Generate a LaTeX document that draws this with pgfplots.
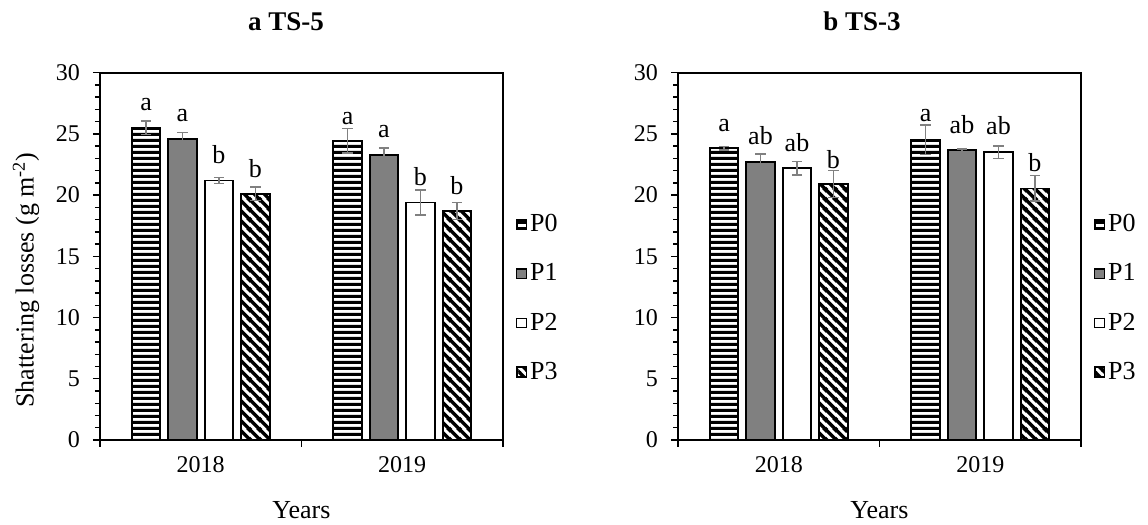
\documentclass[border=0pt]{standalone}
\usepackage{fontspec}
\setmainfont{Liberation Serif}
\usepackage{pgfplots}
\pgfplotsset{compat=1.18}
\usetikzlibrary{patterns}

\definecolor{barGray}{HTML}{808080}
\definecolor{errGray}{HTML}{808080}

\pgfdeclarepatternformonly{hstripes}{\pgfqpoint{0pt}{0pt}}{\pgfqpoint{40pt}{3.2pt}}{\pgfqpoint{40pt}{3.2pt}}{%
  \pgfpathrectangle{\pgfqpoint{-1pt}{0pt}}{\pgfqpoint{42pt}{1.7pt}}\pgfusepath{fill}}

\pgfdeclarepatternformonly{dstripes}{\pgfqpoint{0pt}{0pt}}{\pgfqpoint{4.8pt}{4.8pt}}{\pgfqpoint{4.8pt}{4.8pt}}{%
  \pgfsetlinewidth{1.7pt}%
  \pgfpathmoveto{\pgfqpoint{-1pt}{1pt}}\pgfpathlineto{\pgfqpoint{1pt}{-1pt}}%
  \pgfpathmoveto{\pgfqpoint{-1pt}{5.8pt}}\pgfpathlineto{\pgfqpoint{5.8pt}{-1pt}}%
  \pgfpathmoveto{\pgfqpoint{3.8pt}{5.8pt}}\pgfpathlineto{\pgfqpoint{5.8pt}{3.8pt}}%
  \pgfusepath{stroke}}

\newcommand{\tf}{\fontsize{12}{14}\selectfont}
\newcommand{\lf}{\fontsize{13}{15}\selectfont}

\pgfplotsset{
  panel/.style={
    scale only axis, width=201.5pt, height=183.65pt,
    anchor=south west,
    ybar, bar width=0.142, bar shift=0pt,
    xmin=-0.5, xmax=1.5, ymin=0, ymax=30,
    xtick={-0.5,0.5,1.5}, xticklabels={},
    extra x ticks={0,1}, extra x tick labels={2018,2019},
    extra x tick style={major tick length=0pt, xticklabel style={anchor=base, yshift=-16.5pt}},
    ytick={0,5,...,30}, minor y tick num=4,
    tick align=outside, xtick pos=bottom, ytick pos=left,
    major tick length=3.5pt, minor tick length=2.5pt,
    tick style={black, line width=0.7pt},
    axis line style={black, line width=0.8pt},
    tick label style={font=\tf},
    yticklabel style={xshift=-3pt},
    /pgf/number format/assume math mode=true,
    xlabel={Years},
    label style={font=\lf},
    xlabel style={at={(axis description cs:0.5,-0.215)}, anchor=base},
    legend style={draw=none, fill=none, at={(axis description cs:1.032,0.6235)}, anchor=north west,
      row sep=11.5pt, inner sep=0pt, nodes={inner sep=1.5pt}, font=\lf},
    legend cell align=left,
    legend image code/.code={\draw[#1, line width=0.6pt] (0pt,-2.4pt) rectangle (4.8pt,2.4pt);},
  },
  bb/.style={draw=black, line width=0.9pt,
    error bars/y dir=both, error bars/y explicit,
    error bars/error mark=-,
    error bars/error bar style={color=errGray, line width=0.8pt},
    error bars/error mark options={rotate=90, color=errGray, line width=0.8pt, mark size=2.6pt}},
  p0/.style={bb, preaction={fill=white}, pattern=hstripes},
  p1/.style={bb, fill=barGray},
  p2/.style={bb, fill=white},
  p3/.style={bb, preaction={fill=white}, pattern=dstripes},
  lbl/.style={sharp plot, draw=none, mark=none, forget plot, nodes near coords, point meta=explicit symbolic,
    nodes near coords style={anchor=base, inner sep=0pt, font=\lf}},
}

\begin{document}
\begin{tikzpicture}
\useasboundingbox (0,0) rectangle (574pt,262.5pt);

% ---------------- a TS-5 ----------------
\begin{axis}[panel, at={(50pt,42.5pt)},
  ylabel={Shattering losses (g m\textsuperscript{-2})},
  ylabel style={at={(axis description cs:-0.1836,0.4356)}, anchor=center}]
\addplot[p0] coordinates {(-0.2715,25.5) +- (0,0.55) (0.7285,24.45) +- (0,1.0)};
\addplot[p1] coordinates {(-0.0905,24.6) +- (0,0.5) (0.9095,23.3) +- (0,0.55)};
\addplot[p2] coordinates {(0.0905,21.2) +- (0,0.25) (1.0905,19.4) +- (0,1.0)};
\addplot[p3] coordinates {(0.2715,20.1) +- (0,0.55) (1.2715,18.7) +- (0,0.7)};
\legend{P0,P1,P2,P3}
\addplot[lbl] coordinates {
  (-0.2715,26.93) [a] (-0.0905,25.98) [a] (0.0905,22.62) [b] (0.2715,21.48) [b]
  (0.7285,25.76) [a] (0.9095,24.72) [a] (1.0905,20.77) [b] (1.2715,20.03) [b]};
\end{axis}

% ---------------- b TS-3 ----------------
\begin{axis}[panel, at={(339pt,42.5pt)}]
\addplot[p0] coordinates {(-0.2715,23.82) +- (0,0.15) (0.7285,24.53) +- (0,1.2)};
\addplot[p1] coordinates {(-0.0905,22.7) +- (0,0.65) (0.9095,23.66) +- (0,0.1)};
\addplot[p2] coordinates {(0.0905,22.2) +- (0,0.55) (1.0905,23.5) +- (0,0.5)};
\addplot[p3] coordinates {(0.2715,20.9) +- (0,1.1) (1.2715,20.55) +- (0,1.05)};
\legend{P0,P1,P2,P3}
\addplot[lbl] coordinates {
  (-0.2715,25.21) [a] (-0.0905,24.12) [ab] (0.0905,23.57) [ab] (0.2715,22.21) [b]
  (0.7285,26.03) [a] (0.9095,25.02) [ab] (1.0905,24.94) [ab] (1.2715,21.89) [b]};
\end{axis}

\node[font=\bfseries\fontsize{13.5}{16}\selectfont, anchor=base] at (143pt,247.2pt) {a TS-5};
\node[font=\bfseries\fontsize{13.5}{16}\selectfont, anchor=base] at (431pt,247.2pt) {b TS-3};
\end{tikzpicture}
\end{document}
